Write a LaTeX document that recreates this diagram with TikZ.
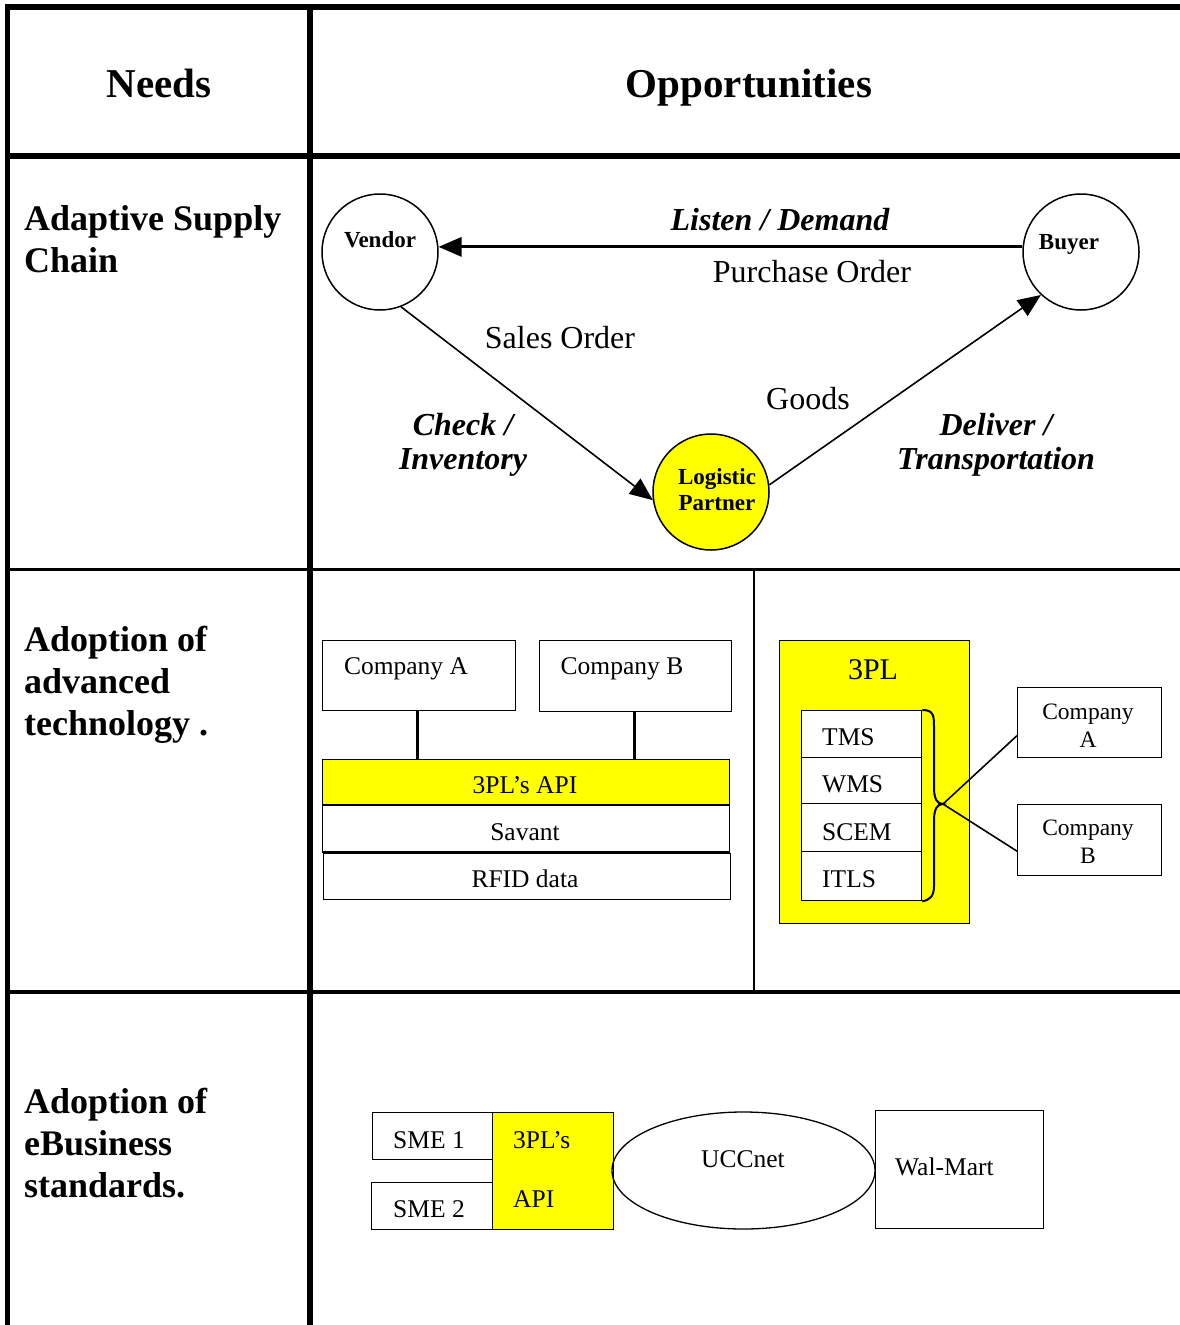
\documentclass[tikz,border=0pt]{standalone}
\usepackage{fontspec}
\setmainfont{Liberation Serif}
\usetikzlibrary{arrows.meta,shapes.geometric}
\definecolor{hl}{RGB}{255,255,0}

\begin{document}
\begin{tikzpicture}[x=1pt,y=-1pt,
  head/.style={font=\fontsize{41}{48}\selectfont\bfseries, anchor=base, inner sep=0},
  rowlab/.style={font=\fontsize{36}{42}\selectfont\bfseries, anchor=base west, align=left, inner sep=0},
  circ/.style={circle, draw, line width=1.5, minimum size=116pt, inner sep=0},
  small/.style={font=\fontsize{23}{26}\selectfont\bfseries, anchor=base, align=center, inner sep=0},
  flow/.style={font=\fontsize{32}{36}\selectfont, anchor=base, inner sep=0},
  act/.style={font=\fontsize{32}{34}\selectfont\bfseries\itshape, anchor=base, align=center, inner sep=0},
  lbl/.style={font=\fontsize{25.5}{28}\selectfont, anchor=base, inner sep=0},
  lbls/.style={font=\fontsize{23.5}{28}\selectfont, anchor=base, align=center, inner sep=0},
  box/.style={rectangle, draw, line width=1.3, anchor=north west, inner sep=0},
  arr/.style={-{Triangle[length=23pt,width=19pt]}},
]
\useasboundingbox (0,0) rectangle (1180,1325);

% ---- table grid ----
\draw[line width=5.5] (7.5,4) -- (7.5,1325);
\draw[line width=6] (5,6.5) -- (1180,6.5);
\draw[line width=6] (310,4) -- (310,1325);
\draw[line width=6] (5,156) -- (1180,156);
\draw[line width=3] (5,569.5) -- (1180,569.5);
\draw[line width=3.5] (5,992) -- (1180,992);
\draw[line width=1.6] (754,569.5) -- (754,992);

% ---- header ----
\node[head] (hneeds) at (159,97) {Needs};
\node[head] (hopp) at (749,97) {Opportunities};

% ---- row labels (anchored at the last baseline) ----
\node[rowlab] (r1) at (24,272) {Adaptive Supply\\Chain};
\node[rowlab] (r2) at (24,735) {Adoption of\\advanced\\technology .};
\node[rowlab] (r3) at (24,1197) {Adoption of\\eBusiness\\standards.};

% ---- supply chain triangle ----
\node[circ] (vendor) at (380,252) {};
\node[circ] (buyer) at (1081,252) {};
\node[circ, fill=hl] (lp) at (711,492) {};
\node[small] (tvendor) at (380,247) {Vendor};
\node[small] (tbuyer) at (1069,249) {Buyer};
\node[small] (tlp) at (717,510) {Logistic\\Partner};

\draw[line width=3, arr] (buyer.175) -- (vendor.5);
\draw[line width=1.6, arr] (vendor.291) -- (lp.188);
\draw[line width=1.6, arr] (lp.7) -- (buyer.227);

\node[act] (listen) at (780,230) {Listen / Demand};
\node[flow] (po) at (812,282) {Purchase Order};
\node[flow] (so) at (560,348) {Sales Order};
\node[flow] (goods) at (808,409) {Goods};
\node[act] (check) at (463,469) {Check /\\Inventory};
\node[act] (deliver) at (996,469) {Deliver /\\Transportation};

% ---- technology: layered API ----
\node[box, minimum width=193pt, minimum height=70pt] (ca1) at (322,640) {};
\node[box, minimum width=192pt, minimum height=71pt] (cb1) at (539,640) {};
\node[lbl] at (406,674) {Company A};
\node[lbl] at (622,674) {Company B};
\node[box, fill=hl, minimum width=407pt, minimum height=45pt] (api) at (322,759) {};
\node[box, minimum width=407pt, minimum height=46pt] (savant) at (322,805) {};
\node[box, minimum width=407pt, minimum height=46pt] (rfid) at (323,853) {};
\draw[line width=2.5] (322,852) -- (730,852);
\node[lbl] at (525,793) {3PL’s API};
\node[lbl] at (525,840) {Savant};
\node[lbl] at (525,887) {RFID data};
\draw[line width=3] (ca1.south -| 417,0) -- (api.north -| 417,0);
\draw[line width=3] (cb1.south -| 634,0) -- (api.north -| 634,0);

% ---- technology: 3PL services ----
\node[box, fill=hl, minimum width=190pt, minimum height=283pt] (tpl) at (779,640) {};
\node[lbl, font=\fontsize{30}{34}\selectfont] at (873,679) {3PL};
\node[box, fill=white, minimum width=120pt, minimum height=47pt] (tms) at (801,710) {};
\node[box, fill=white, minimum width=120pt, minimum height=46pt] (wms) at (801,757) {};
\node[box, fill=white, minimum width=120pt, minimum height=48pt] (scem) at (801,803) {};
\node[box, fill=white, minimum width=120pt, minimum height=49pt] (itls) at (801,851) {};
\node[lbl, anchor=base west] at (822,745) {TMS};
\node[lbl, anchor=base west] at (822,792) {WMS};
\node[lbl, anchor=base west] at (822,840) {SCEM};
\node[lbl, anchor=base west] at (822,887) {ITLS};
\coordinate (tip) at (943,804);
\draw[line width=2]
  (tms.north east) .. controls (934,710) and (934,716) .. (934,728)
  -- (934,787) .. controls (934,799) and (937,804) .. (tip)
  .. controls (937,804) and (934,809) .. (934,821)
  -- (934,886) .. controls (934,896) and (930,900) .. (itls.south east);
\node[box, minimum width=144pt, minimum height=70pt] (ca2) at (1017,687) {};
\node[box, minimum width=144pt, minimum height=71pt] (cb2) at (1017,804) {};
\node[lbls] at (1088,747) {Company\\A};
\node[lbls] at (1088,863) {Company\\B};
\draw[line width=1.6] (tip) -- ([yshift=-13pt]ca2.west);
\draw[line width=1.6] (tip) -- ([yshift=-11pt]cb2.west);

% ---- eBusiness standards ----
\node[box, minimum width=120pt, minimum height=47pt] (sme1) at (372,1112) {};
\node[box, minimum width=121pt, minimum height=47pt] (sme2) at (371,1182) {};
\node[box, fill=hl, minimum width=121pt, minimum height=117pt] (api2) at (492,1112) {};
\node[ellipse, draw, line width=1.3, minimum width=263pt, minimum height=117pt, inner sep=0] (ucc) at (743.5,1170.5) {};
\node[box, minimum width=168pt, minimum height=118pt] (wal) at (875,1110) {};
\node[lbl] at (429,1148) {SME 1};
\node[lbl] at (429,1217) {SME 2};
\node[lbl, anchor=base west] at (513,1148) {3PL’s};
\node[lbl, anchor=base west] at (513,1207) {API};
\node[lbl] at (743,1167) {UCCnet};
\node[lbl, anchor=base west] at (895,1175) {Wal-Mart};
\end{tikzpicture}
\end{document}
